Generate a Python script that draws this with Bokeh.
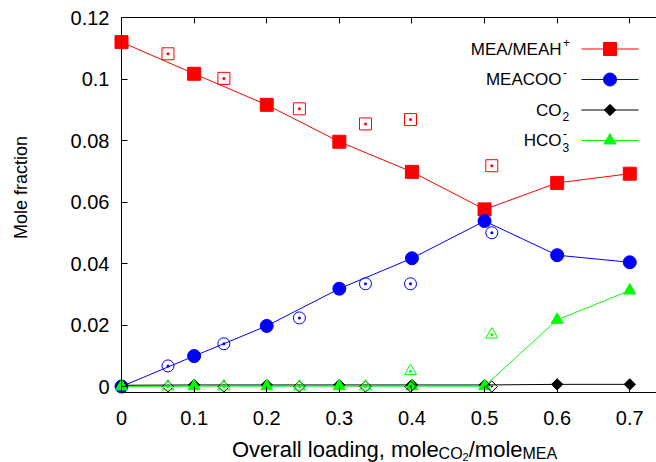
from bokeh.plotting import figure
from bokeh.models import Range1d, FixedTicker, LinearAxis, Label, CustomJSTickFormatter
from bokeh.embed import file_html
from bokeh.resources import INLINE
import math

# ---------------- data ----------------
loading_model = [0.0, 0.1, 0.2, 0.3, 0.4, 0.5, 0.6, 0.7]
mea_model = [0.1120, 0.1017, 0.0916, 0.0796, 0.0698, 0.0576, 0.0662, 0.0692]
meacoo_model = [0.0, 0.0099, 0.0197, 0.0318, 0.0417, 0.0538, 0.0427, 0.0404]
co2_model = [0.0004, 0.0005, 0.0005, 0.0005, 0.0005, 0.0005, 0.0007, 0.0007]
hco3_model = [0.0, 0.0001, 0.0001, 0.0001, 0.0001, 0.0001, 0.0217, 0.0312]

loading_exp = [0.064, 0.141, 0.245, 0.336, 0.398, 0.510]
mea_exp = [0.1082, 0.1002, 0.0903, 0.0854, 0.0868, 0.0718]
meacoo_exp = [0.0067, 0.0139, 0.0223, 0.0334, 0.0334, 0.0500]
co2_exp = [0.0, 0.0, 0.0, 0.0, 0.0, 0.0]
hco3_exp = [0.0, 0.0, 0.0, 0.0, 0.0050, 0.0169]

x_ticks = [0.0, 0.1, 0.2, 0.3, 0.4, 0.5, 0.6, 0.7]
y_ticks = [0.0, 0.02, 0.04, 0.06, 0.08, 0.10, 0.12]

legend_names = ["MEA/MEAH", "MEACOO", "CO", "HCO"]
legend_sup = ["+", "-", "", "-"]
legend_sub = ["", "", "2", "3"]

y_title = "Mole fraction"

# ---------------- styling / layout ----------------
RED, BLUE, BLACK, GREEN = "#ff0000", "#0000ff", "#000000", "#00ff00"
FONT = "Liberation Sans"
W, H = 656, 462
LEFT, TOP, BOTTOM_PX = 121, 17, 392
ZERO_PX = 386
PX_PER_X = 726.1
PX_PER_Y = 3075.0


def dx(px):
    return (px - LEFT) / PX_PER_X


def dy(py):
    return (ZERO_PX - py) / PX_PER_Y


# the frame covers the whole canvas; axes are pinned with fixed_location/bounds
p = figure(width=W, height=H, output_backend="svg", toolbar_location=None,
           x_range=Range1d(dx(0), dx(W)), y_range=Range1d(dy(H), dy(0)),
           x_axis_location=None, y_axis_location=None,
           min_border=0, min_border_left=0, min_border_right=0,
           min_border_top=0, min_border_bottom=0)
p.outline_line_color = None
p.grid.visible = False
p.background_fill_color = "white"
p.border_fill_color = "white"

fmt = "return parseFloat(tick.toFixed(3)).toString();"


def style(ax):
    ax.major_tick_in = 6
    ax.major_tick_out = 0
    ax.minor_tick_in = 0
    ax.minor_tick_out = 0
    ax.axis_line_color = "black"
    ax.axis_line_width = 1
    ax.major_tick_line_color = "black"
    ax.major_label_text_font = FONT
    ax.major_label_text_font_size = "20px"
    ax.major_label_text_color = "black"
    ax.formatter = CustomJSTickFormatter(code=fmt)


xaxis = LinearAxis(ticker=FixedTicker(ticks=x_ticks), fixed_location=dy(BOTTOM_PX),
                   bounds=(dx(LEFT), dx(W)))
style(xaxis)
xaxis.major_label_standoff = 18
p.add_layout(xaxis, "below")

yaxis = LinearAxis(ticker=FixedTicker(ticks=y_ticks), fixed_location=dx(LEFT),
                   bounds=(dy(BOTTOM_PX), dy(TOP)))
style(yaxis)
yaxis.major_label_standoff = 12
p.add_layout(yaxis, "left")

top_axis = LinearAxis(ticker=FixedTicker(ticks=x_ticks), fixed_location=dy(TOP),
                      bounds=(dx(LEFT), dx(W)))
style(top_axis)
top_axis.major_label_text_color = None
p.add_layout(top_axis, "above")

# y-axis title
p.add_layout(Label(x=dx(20), y=dy(187), text=y_title, angle=math.pi / 2,
                   text_align="center", text_baseline="middle", text_font=FONT,
                   text_font_size="18px", text_color="black"))

# ---------------- model curves (lines + filled markers) ----------------
p.line(loading_model, mea_model, line_color=RED, line_width=1)
p.scatter(loading_model, mea_model, marker="square", size=13, fill_color=RED, line_color=RED)

p.line(loading_model, meacoo_model, line_color=BLUE, line_width=1)
p.scatter(loading_model, meacoo_model, marker="circle", size=13, fill_color=BLUE, line_color=BLUE)

p.line(loading_model, co2_model, line_color=BLACK, line_width=1)
p.scatter(loading_model, co2_model, marker="square", angle=math.pi / 4, size=8,
          fill_color=BLACK, line_color=BLACK)

p.line(loading_model, hco3_model, line_color=GREEN, line_width=1)
p.scatter(loading_model, hco3_model, marker="triangle", size=12, fill_color=GREEN, line_color=GREEN)

# ---------------- experimental points (open markers) ----------------
p.scatter(loading_exp, mea_exp, marker="square_dot", size=12, fill_color=None,
          line_color=RED, line_width=1)
p.scatter(loading_exp, meacoo_exp, marker="circle_dot", size=12, fill_color=None,
          line_color=BLUE, line_width=1)
p.scatter(loading_exp, co2_exp, marker="square_dot", angle=math.pi / 4, size=8, fill_color=None,
          line_color=BLACK, line_width=1)
p.scatter(loading_exp, hco3_exp, marker="triangle_dot", size=12, fill_color=None,
          line_color=GREEN, line_width=1)

# ---------------- manual legend (text on the left, sample on the right) ----------------
legend_rows_px = [48.5, 79, 109.5, 140]
legend_colors = [RED, BLUE, BLACK, GREEN]
legend_markers = [("square", 13, 0), ("circle", 13, 0), ("square", 8, math.pi / 4), ("triangle", 12, 0)]
text_right_px = 561
for i, name in enumerate(legend_names):
    yy = dy(legend_rows_px[i])
    col = legend_colors[i]
    p.line([dx(581), dx(638)], [yy, yy], line_color=col, line_width=1)
    mk, sz, ang = legend_markers[i]
    p.scatter([dx(609.5)], [yy], marker=mk, size=sz, angle=ang, fill_color=col, line_color=col)
    p.add_layout(Label(x=dx(text_right_px), y=yy, text=name, text_align="right",
                       text_baseline="middle", text_font=FONT, text_font_size="17px",
                       text_color="black"))
    if legend_sup[i]:
        p.add_layout(Label(x=dx(text_right_px + 1.5), y=yy + 7 / PX_PER_Y, text=legend_sup[i],
                           text_align="left", text_baseline="middle", text_font=FONT,
                           text_font_size="12px", text_color="black"))
    if legend_sub[i]:
        p.add_layout(Label(x=dx(text_right_px + 1), y=yy - 6.5 / PX_PER_Y, text=legend_sub[i],
                           text_align="left", text_baseline="middle", text_font=FONT,
                           text_font_size="12px", text_color="black"))

# ---------------- x-axis label with subscripts ----------------
ARIAL = {"O": 778, "v": 500, "e": 556, "r": 333, "a": 556, "l": 222, " ": 278, "o": 556,
         "d": 556, "i": 222, "n": 556, "g": 556, ",": 278, "m": 833, "C": 722, "2": 556,
         "/": 278, "M": 833, "E": 667, "A": 667}


def tw(s, size):
    return sum(ARIAL.get(c, 556) for c in s) * size / 1000.0


pieces = [("Overall loading, mole", 22, 448.5), ("CO", 16, 453.0), ("2", 11, 456.0),
          ("/mole", 22, 448.5), ("MEA", 16, 453.0)]
cur = 231.5
for txt, fs, base in pieces:
    p.add_layout(Label(x=dx(cur), y=dy(base), text=txt, text_align="left",
                       text_baseline="alphabetic", text_font=FONT,
                       text_font_size=f"{fs}px", text_color="black"))
    cur += tw(txt, fs)

open("out.html", "w").write(file_html(p, INLINE))
